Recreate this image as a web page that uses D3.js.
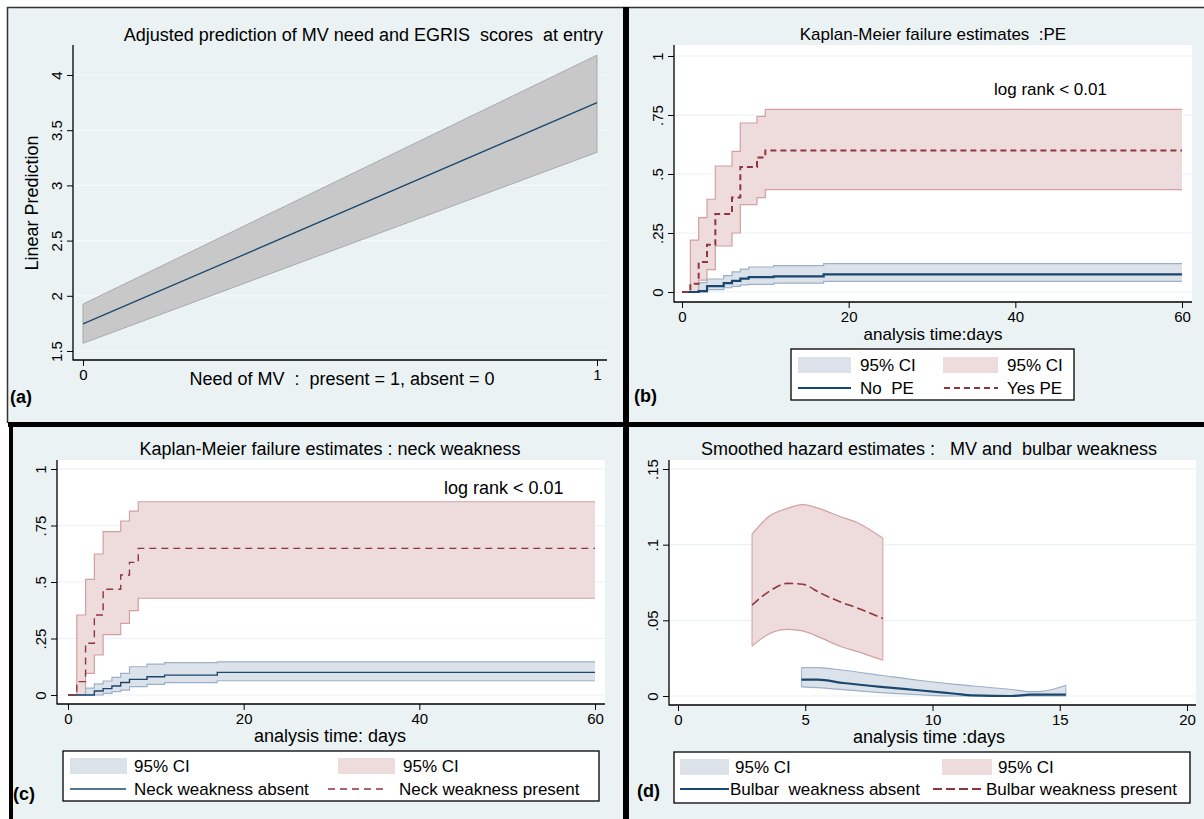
<!DOCTYPE html>
<html>
<head>
<meta charset="utf-8">
<script src="https://cdn.jsdelivr.net/npm/d3@7"></script>
<style>
body { margin: 0; background: #fff; }
text { font-family: "Liberation Sans", Arial, sans-serif; fill: #000; white-space: pre; }
</style>
</head>
<body>
<svg id="fig" width="1204" height="819"></svg>
<script>
// (a) adjusted prediction, MV need vs EGRIS
var mvX = [0, 1];
var mvFit = [1.745, 3.75];
var mvLo = [1.57, 3.30];
var mvHi = [1.925, 4.18];
var aTicksY = [1.5, 2, 2.5, 3, 3.5, 4];
var aTicksX = [0, 1];

// (b) KM failure, PE
var peYesT = [0, 1, 2, 3, 4, 6, 7, 9, 10, 60];
var peYes = [0, .035, .127, .20, .33, .40, .53, .57, .60, .60];
var peYesHi = [0, .22, .315, .393, .534, .596, .716, .744, .774, .774];
var peYesLo = [0, 0, .05, .095, .195, .25, .37, .40, .434, .434];
var peNoT = [0, 2, 3, 5, 6, 7, 8, 11, 17, 60];
var peNo = [0, .004, .025, .038, .047, .057, .063, .066, .075, .075];
var peNoHi = [0, .04, .055, .069, .085, .097, .106, .112, .12, .12];
var peNoLo = [0, 0, .01, .018, .024, .03, .032, .038, .045, .045];

// (c) KM failure, neck weakness
var neckPresT = [0, 1, 2, 3, 4, 6, 7, 8, 60];
var neckPres = [0, .059, .229, .354, .468, .531, .587, .649, .649];
var neckPresHi = [0, .354, .512, .624, .723, .770, .814, .855, .855];
var neckPresLo = [0, 0, .096, .177, .267, .317, .373, .428, .428];
var neckAbsT = [0, 2, 3, 4, 5, 6, 7, 9, 11, 17, 60];
var neckAbs = [0, 0, .018, .028, .04, .055, .069, .081, .088, .10, .10];
var neckAbsHi = [0, .03, .049, .062, .078, .096, .125, .137, .143, .147, .147];
var neckAbsLo = [0, 0, 0, .007, .015, .022, .037, .047, .055, .063, .063];

// (d) smoothed hazard, bulbar weakness
var bulbPresT = [2.91, 3.57, 4.30, 4.89, 5.62, 6.36, 7.09, 8.05];
var bulbPres = [.060, .069, .0744, .0738, .0678, .0623, .0579, .0512];
var bulbPresHi = [.107, .1186, .124, .1264, .1235, .1186, .1142, .1043];
var bulbPresLo = [.033, .041, .044, .043, .0384, .0329, .0292, .0236];
var bulbAbsT = [4.85, 5.48, 6.5, 7.97, 9.44, 10.9, 11.6, 13.1, 13.85, 14.3, 15.24];
var bulbAbs = [.0108, .0108, .0086, .006, .0038, .0015, .0004, 0, .0009, .0009, .0009];
var bulbAbsHi = [.0188, .0188, .017, .0137, .0104, .0077, .0066, .0043, .0029, .0031, .0071];
var bulbAbsLo = [.006, .0055, .0042, .0022, .0009, 0, 0, 0, 0, 0, 0];

var kmTicksY = [0, .25, .5, .75, 1];
var kmTicksX = [0, 20, 40, 60];
var hzTicksY = [0, .05, .1, .15];
var hzTicksX = [0, 5, 10, 15, 20];

var BG = "#eaf2f3", NAVY = "#1a476f", MAROON = "#90353b";
var CI_B = "#dce2ea", CI_B_LINE = "#9db0c8";
var CI_R = "#eedcdd", CI_R_LINE = "#d49ea2";
var TICK_FS = 15, AX_FS = 18, TITLE_FS = 18, LEG_FS = 17;

var svg = d3.select("#fig");

function fmtKM(d) { return d === 0 ? "0" : d === 1 ? "1" : String(d).replace(/^0/, ""); }

// panel backgrounds and frames
svg.append("rect").attr("x", 8).attr("y", 8).attr("width", 615).attr("height", 415).attr("fill", BG);
svg.append("rect").attr("x", 629).attr("y", 8).attr("width", 575).attr("height", 415).attr("fill", BG);
svg.append("rect").attr("x", 13).attr("y", 427).attr("width", 610).attr("height", 392).attr("fill", BG);
svg.append("rect").attr("x", 629).attr("y", 427).attr("width", 575).attr("height", 392).attr("fill", BG);
svg.append("line").attr("x1", 7).attr("x2", 1204).attr("y1", 7.5).attr("y2", 7.5).attr("stroke", "#333").attr("stroke-width", 1.5);
svg.append("line").attr("x1", 7.5).attr("x2", 7.5).attr("y1", 7).attr("y2", 423).attr("stroke", "#333").attr("stroke-width", 1.5);
svg.append("rect").attr("x", 623).attr("y", 7).attr("width", 6).attr("height", 812).attr("fill", "#000");
svg.append("rect").attr("x", 8).attr("y", 422).attr("width", 1196).attr("height", 5).attr("fill", "#000");
svg.append("rect").attr("x", 9).attr("y", 422).attr("width", 4).attr("height", 397).attr("fill", "#000");

function frame(p) {
  var g = svg.append("g");
  g.append("rect").attr("x", p.x0).attr("y", p.y0)
    .attr("width", p.x1 - p.x0).attr("height", p.y1 - p.y0)
    .attr("fill", p.plotFill || "#fff");
  g.selectAll(".grid").data(p.ticksY).enter().append("line")
    .attr("x1", p.x0).attr("x2", p.x1)
    .attr("y1", function (d) { return p.y(d); }).attr("y2", function (d) { return p.y(d); })
    .attr("stroke", p.gridColor || BG).attr("stroke-width", 1.2);
  p.g = g;
  return g;
}

function axes(p) {
  var ax = svg.append("g").attr("transform", "translate(" + p.x0 + ",0)")
    .call(d3.axisLeft(p.y).tickValues(p.ticksY).tickSize(6).tickSizeOuter(0).tickFormat(p.fmtY));
  ax.select(".domain").remove();
  ax.selectAll("line").attr("stroke", "#000");
  ax.selectAll("text").attr("x", 0).attr("y", 0).attr("dy", 0)
    .attr("text-anchor", "middle").attr("font-size", TICK_FS)
    .attr("transform", "translate(-11,0) rotate(-90)");
  var bx = svg.append("g").attr("transform", "translate(0," + p.y1 + ")")
    .call(d3.axisBottom(p.x).tickValues(p.ticksX).tickSize(6).tickSizeOuter(0).tickFormat(d3.format("~g")));
  bx.select(".domain").remove();
  bx.selectAll("line").attr("stroke", "#000");
  bx.selectAll("text").attr("font-size", TICK_FS).attr("y", 9);
  svg.append("line").attr("x1", p.x0).attr("x2", p.x0).attr("y1", p.y0).attr("y2", p.y1 + 0.5)
    .attr("stroke", "#000").attr("stroke-width", 1.3);
  svg.append("line").attr("x1", p.x0).attr("x2", p.x1).attr("y1", p.y1).attr("y2", p.y1)
    .attr("stroke", "#000").attr("stroke-width", 1.3);
}

function band(p, t, lo, hi, fill, line, curve, closeEnds) {
  var idx = d3.range(t.length);
  var area = d3.area().curve(curve)
    .x(function (i) { return p.x(t[i]); })
    .y0(function (i) { return p.y(lo[i]); })
    .y1(function (i) { return p.y(hi[i]); });
  p.g.append("path").datum(idx).attr("d", area).attr("fill", fill);
  [lo, hi].forEach(function (arr) {
    var ln = d3.line().curve(curve)
      .x(function (i) { return p.x(t[i]); })
      .y(function (i) { return p.y(arr[i]); });
    p.g.append("path").datum(idx).attr("d", ln).attr("fill", "none")
      .attr("stroke", line).attr("stroke-width", 1.2);
  });
  if (closeEnds) {
    [0, t.length - 1].forEach(function (i) {
      p.g.append("line").attr("x1", p.x(t[i])).attr("x2", p.x(t[i]))
        .attr("y1", p.y(lo[i])).attr("y2", p.y(hi[i])).attr("stroke", line).attr("stroke-width", 1);
    });
  }
}

function curve(p, t, v, color, width, dash, cv) {
  var ln = d3.line().curve(cv)
    .x(function (i) { return p.x(t[i]); })
    .y(function (i) { return p.y(v[i]); });
  p.g.append("path").datum(d3.range(t.length)).attr("d", ln).attr("fill", "none")
    .attr("stroke", color).attr("stroke-width", width).attr("stroke-dasharray", dash || null);
}

function label(x, y, txt, size, anchor, weight) {
  return svg.append("text").attr("x", x).attr("y", y).attr("font-size", size)
    .attr("text-anchor", anchor || "start").attr("font-weight", weight || "normal").text(txt);
}

function legend(b, items) {
  svg.append("rect").attr("x", b.x).attr("y", b.y).attr("width", b.w).attr("height", b.h)
    .attr("fill", "#fff").attr("stroke", "#000").attr("stroke-width", 1.3);
  items.forEach(function (it) {
    if (it.kind === "rect") {
      svg.append("rect").attr("x", it.x).attr("y", it.y - 8).attr("width", it.w).attr("height", 16).attr("fill", it.color);
    } else {
      svg.append("line").attr("x1", it.x).attr("x2", it.x + it.w).attr("y1", it.y).attr("y2", it.y)
        .attr("stroke", it.color).attr("stroke-width", it.width).attr("stroke-dasharray", it.dash || null);
    }
    label(it.tx, it.y + 6, it.text, b.size);
  });
}

// ---------- (a)
var pa = { x0: 73, x1: 607, y0: 45, y1: 360, ticksY: aTicksY, ticksX: aTicksX,
  fmtY: d3.format("~g"), plotFill: BG, gridColor: "#f6fafb" };
pa.x = d3.scaleLinear().domain([0, 1]).range([83, 597]);
pa.y = d3.scaleLinear().domain([1.5, 4]).range([351, 75]);
frame(pa);
var ia = d3.range(mvX.length);
pa.g.append("path").datum(ia).attr("fill", "#c8c8c8").attr("stroke", "#a9a9a9").attr("stroke-width", 1)
  .attr("d", d3.area().x(function (i) { return pa.x(mvX[i]); })
    .y0(function (i) { return pa.y(mvLo[i]); }).y1(function (i) { return pa.y(mvHi[i]); }));
curve(pa, mvX, mvFit, NAVY, 1.3, null, d3.curveLinear);
axes(pa);
label(603, 41, "Adjusted prediction of MV need and EGRIS  scores  at entry", TITLE_FS, "end");
label(0, 0, "Linear Prediction", AX_FS, "middle").attr("transform", "translate(38,203) rotate(-90)");
label(342, 385, "Need of MV  :  present = 1, absent = 0", AX_FS, "middle");
label(10, 403, "(a)", 18, "start", "bold");

// ---------- (b)
var pb = { x0: 674, x1: 1192, y0: 45, y1: 302, ticksY: kmTicksY, ticksX: kmTicksX, fmtY: fmtKM };
pb.x = d3.scaleLinear().domain([0, 60]).range([682, 1182]);
pb.y = d3.scaleLinear().domain([0, 1]).range([292, 56]);
frame(pb);
band(pb, peYesT, peYesLo, peYesHi, CI_R, CI_R_LINE, d3.curveStepAfter);
band(pb, peNoT, peNoLo, peNoHi, CI_B, CI_B_LINE, d3.curveStepAfter);
curve(pb, peNoT, peNo, NAVY, 2.2, null, d3.curveStepAfter);
curve(pb, peYesT, peYes, MAROON, 2, "6,4", d3.curveStepAfter);
axes(pb);
label(933, 40, "Kaplan-Meier failure estimates  :PE", 17, "middle");
label(994, 95, "log rank < 0.01", 17);
label(933, 340, "analysis time:days", 17, "middle");
legend({ x: 791, y: 349, w: 283, h: 51, size: LEG_FS }, [
  { kind: "rect", x: 798, y: 365, w: 53, color: CI_B, tx: 860, text: "95% CI" },
  { kind: "rect", x: 943, y: 365, w: 55, color: CI_R, tx: 1007, text: "95% CI" },
  { kind: "line", x: 798, y: 388, w: 53, color: NAVY, width: 2.2, tx: 860, text: "No  PE" },
  { kind: "line", x: 944, y: 388, w: 54, color: MAROON, width: 2, dash: "6,4", tx: 1007, text: "Yes PE" }
]);
label(634, 402, "(b)", 18, "start", "bold");

// ---------- (c)
var pc = { x0: 57, x1: 605, y0: 460, y1: 704, ticksY: kmTicksY, ticksX: kmTicksX, fmtY: fmtKM };
pc.x = d3.scaleLinear().domain([0, 60]).range([68, 595]);
pc.y = d3.scaleLinear().domain([0, 1]).range([695, 469]);
frame(pc);
band(pc, neckPresT, neckPresLo, neckPresHi, CI_R, CI_R_LINE, d3.curveStepAfter);
band(pc, neckAbsT, neckAbsLo, neckAbsHi, CI_B, CI_B_LINE, d3.curveStepAfter);
curve(pc, neckAbsT, neckAbs, NAVY, 1.4, null, d3.curveStepAfter);
curve(pc, neckPresT, neckPres, MAROON, 1.4, "7,5", d3.curveStepAfter);
axes(pc);
label(330, 455, "Kaplan-Meier failure estimates : neck weakness", TITLE_FS, "middle");
label(444, 494, "log rank < 0.01", 18);
label(330, 742, "analysis time: days", AX_FS, "middle");
legend({ x: 63, y: 751, w: 536, h: 50, size: LEG_FS }, [
  { kind: "rect", x: 70, y: 766, w: 57, color: CI_B, tx: 134, text: "95% CI" },
  { kind: "rect", x: 338, y: 766, w: 57, color: CI_R, tx: 403, text: "95% CI" },
  { kind: "line", x: 70, y: 789, w: 56, color: NAVY, width: 1.4, tx: 134, text: "Neck weakness absent" },
  { kind: "line", x: 328, y: 789, w: 56, color: MAROON, width: 1.4, dash: "7,5", tx: 399, text: "Neck weakness present" }
]);
label(13, 800, "(c)", 18, "start", "bold");

// ---------- (d)
var pd = { x0: 669, x1: 1196, y0: 460, y1: 705, ticksY: hzTicksY, ticksX: hzTicksX, fmtY: fmtKM };
pd.x = d3.scaleLinear().domain([0, 20]).range([678, 1187]);
pd.y = d3.scaleLinear().domain([0, .15]).range([696, 469]);
frame(pd);
band(pd, bulbPresT, bulbPresLo, bulbPresHi, CI_R, CI_R_LINE, d3.curveMonotoneX, true);
band(pd, bulbAbsT, bulbAbsLo, bulbAbsHi, CI_B, CI_B_LINE, d3.curveMonotoneX, true);
curve(pd, bulbAbsT, bulbAbs, NAVY, 2.2, null, d3.curveMonotoneX);
curve(pd, bulbPresT, bulbPres, MAROON, 1.6, "9,4", d3.curveMonotoneX);
axes(pd);
label(929, 455, "Smoothed hazard estimates :   MV and  bulbar weakness", TITLE_FS, "middle");
label(929, 743, "analysis time :days", AX_FS, "middle");
legend({ x: 674, y: 752, w: 516, h: 51, size: LEG_FS }, [
  { kind: "rect", x: 680, y: 767, w: 49, color: CI_B, tx: 735, text: "95% CI" },
  { kind: "rect", x: 942, y: 767, w: 50, color: CI_R, tx: 998, text: "95% CI" },
  { kind: "line", x: 680, y: 789, w: 49, color: NAVY, width: 2.2, tx: 730, text: "Bulbar  weakness absent" },
  { kind: "line", x: 933, y: 789, w: 50, color: MAROON, width: 2, dash: "9,4", tx: 986, text: "Bulbar weakness present" }
]);
label(637, 797, "(d)", 18, "start", "bold");
</script>
</body>
</html>
